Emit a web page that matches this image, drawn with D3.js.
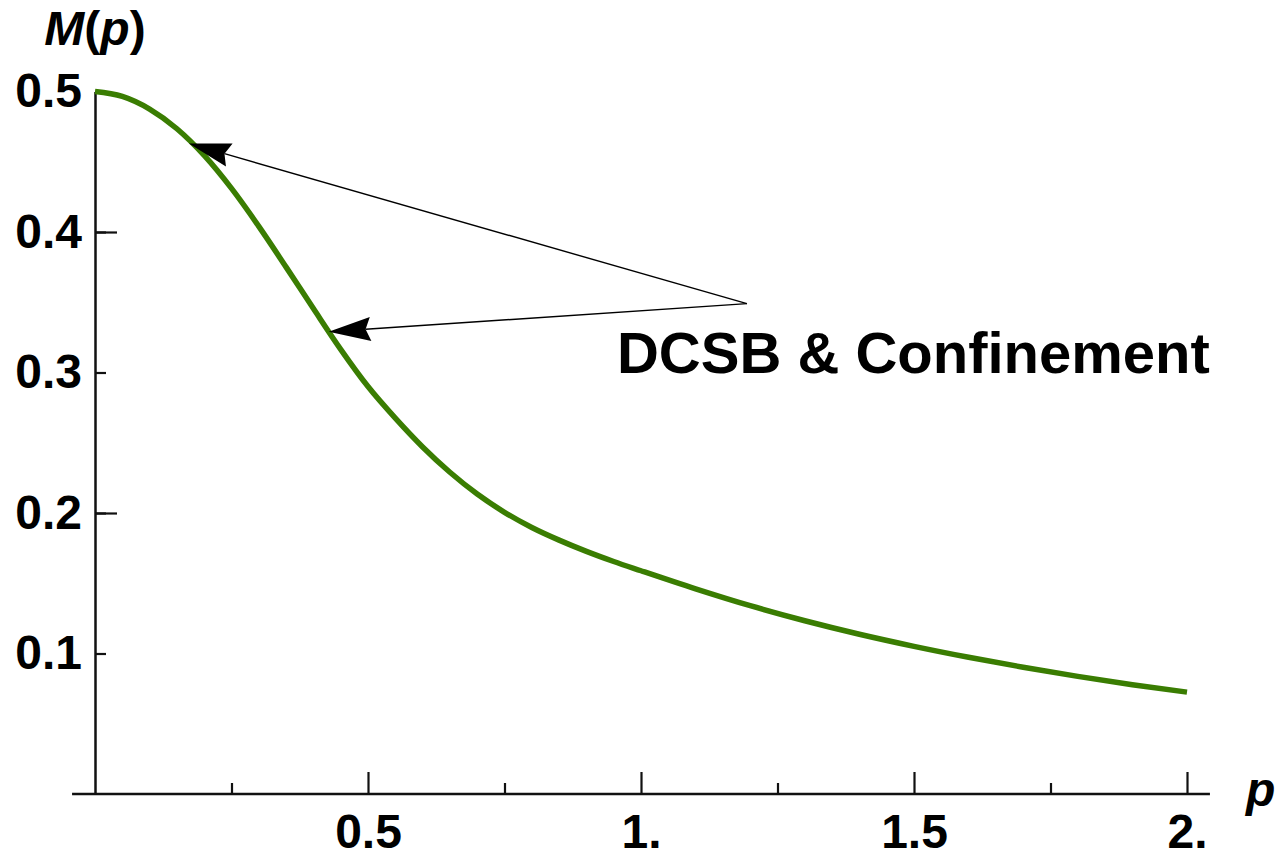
<!DOCTYPE html>
<html>
<head>
<meta charset="utf-8">
<script src="https://cdn.jsdelivr.net/npm/d3@7"></script>
<style>
  body { margin: 0; background: #fff; }
  svg text { font-family: "Liberation Sans", Arial, sans-serif; font-weight: bold; fill: #000; }
</style>
</head>
<body>
<div id="chart"></div>
<script>
// values
var pValues = [0, 0.05, 0.1, 0.15, 0.2, 0.25, 0.3, 0.35, 0.4, 0.45, 0.5, 0.55, 0.6, 0.65, 0.7, 0.75, 0.8, 0.85, 0.9, 0.95,
  1.0, 1.1, 1.2, 1.3, 1.4, 1.5, 1.6, 1.7, 1.8, 1.9, 2.0];
var mValues = [0.5, 0.4965, 0.4875, 0.4735, 0.4545, 0.431, 0.404, 0.375, 0.3455, 0.3165, 0.290, 0.2675, 0.247, 0.229, 0.2135,
  0.2005, 0.1897, 0.1807, 0.1727, 0.1655, 0.1589, 0.146, 0.134, 0.1233, 0.1137, 0.1051, 0.0973, 0.0902, 0.0837, 0.0778, 0.0725];

var xMajorTicks = [0.5, 1, 1.5, 2];
var xMinorTicks = [0.25, 0.75, 1.25, 1.75];
var yTicks = [0.1, 0.2, 0.3, 0.4, 0.5];
var yLongTicks = [0.2, 0.4];

var annotationText = "DCSB & Confinement";
var arrowFrom = [1.194, 0.349];
var arrowTips = [[0.172, 0.463], [0.428, 0.329]];
var textAt = [0.956, 0.3];

(function() {
  var width = 1280, height = 858;

  var svg = d3.select("#chart")
    .append("svg")
    .attr("width", width)
    .attr("height", height);

  var xScale = d3.scaleLinear().domain([0, 2]).range([95, 1187]);
  var yScale = d3.scaleLinear().domain([0, 0.5]).range([794, 91.5]);

  var fmtX = function(d) { return Number.isInteger(d) ? d + "." : String(d); };

  // x axis line runs a bit past both ends
  svg.append("line")
    .attr("x1", xScale(-0.042))
    .attr("x2", xScale(2.042))
    .attr("y1", yScale(0))
    .attr("y2", yScale(0))
    .attr("stroke", "#111")
    .attr("stroke-width", 2.5);

  var xAxis = d3.axisBottom(xScale).tickValues(xMajorTicks).tickFormat(fmtX)
    .tickSizeInner(-22).tickSizeOuter(0).tickPadding(20);
  var gx = svg.append("g")
    .attr("transform", "translate(0," + yScale(0) + ")")
    .call(xAxis);
  gx.select(".domain").remove();

  var xMinor = d3.axisBottom(xScale).tickValues(xMinorTicks).tickFormat("")
    .tickSizeInner(-11).tickSizeOuter(0);
  var gx2 = svg.append("g")
    .attr("transform", "translate(0," + yScale(0) + ")")
    .call(xMinor);
  gx2.select(".domain").remove();

  var yAxis = d3.axisLeft(yScale).tickValues(yTicks).tickFormat(d3.format(".1f"))
    .tickSizeInner(-11).tickSizeOuter(0).tickPadding(13);
  var gy = svg.append("g")
    .attr("transform", "translate(" + xScale(0) + ",0)")
    .call(yAxis);

  var yLong = d3.axisLeft(yScale).tickValues(yLongTicks).tickFormat("")
    .tickSizeInner(-22).tickSizeOuter(0);
  var gy2 = svg.append("g")
    .attr("transform", "translate(" + xScale(0) + ",0)")
    .call(yLong);
  gy2.select(".domain").remove();

  svg.selectAll(".tick line").attr("stroke", "#111").attr("stroke-width", 2.2);
  gy.select(".domain").attr("stroke", "#111").attr("stroke-width", 2.5);
  svg.selectAll(".tick text")
    .attr("font-size", 48)
    .attr("font-family", "Liberation Sans, Arial, sans-serif")
    .attr("font-weight", "bold")
    .attr("fill", "#000");

  // curve
  var data = pValues.map(function(p, i) { return { p: p, m: mValues[i] }; });
  var line = d3.line()
    .x(function(d) { return xScale(d.p); })
    .y(function(d) { return yScale(d.m); })
    .curve(d3.curveMonotoneX);

  svg.append("path")
    .datum(data)
    .attr("d", line)
    .attr("fill", "none")
    .attr("stroke", "#3a7d02")
    .attr("stroke-width", 5.5);

  // arrows
  var ax = xScale(arrowFrom[0]), ay = yScale(arrowFrom[1]);
  arrowTips.forEach(function(t) {
    var tx = xScale(t[0]), ty = yScale(t[1]);
    var dx = ax - tx, dy = ay - ty;
    var len = Math.sqrt(dx * dx + dy * dy);
    var ux = dx / len, uy = dy / len;
    var L = 42, hw = 12, notch = 37;
    svg.append("line")
      .attr("x1", ax).attr("y1", ay)
      .attr("x2", tx + ux * notch).attr("y2", ty + uy * notch)
      .attr("stroke", "#000")
      .attr("stroke-width", 1.4);
    var pts = [
      [tx, ty],
      [tx + ux * L - uy * hw, ty + uy * L + ux * hw],
      [tx + ux * notch, ty + uy * notch],
      [tx + ux * L + uy * hw, ty + uy * L - ux * hw]
    ];
    svg.append("path")
      .attr("d", "M" + pts.map(function(q) { return q.join(","); }).join("L") + "Z")
      .attr("fill", "#000");
  });

  svg.append("text")
    .attr("x", xScale(textAt[0]))
    .attr("y", yScale(textAt[1]))
    .attr("font-size", 58)
    .text(annotationText);

  // axis labels
  var yl = svg.append("text")
    .attr("x", xScale(0))
    .attr("y", 45)
    .attr("text-anchor", "middle")
    .attr("font-size", 48);
  yl.append("tspan").attr("font-style", "italic").text("M");
  yl.append("tspan").text("(");
  yl.append("tspan").attr("font-style", "italic").text("p");
  yl.append("tspan").text(")");

  svg.append("text")
    .attr("x", 1246)
    .attr("y", yScale(0) + 12)
    .attr("font-size", 48)
    .attr("font-style", "italic")
    .text("p");
})();
</script>
</body>
</html>
